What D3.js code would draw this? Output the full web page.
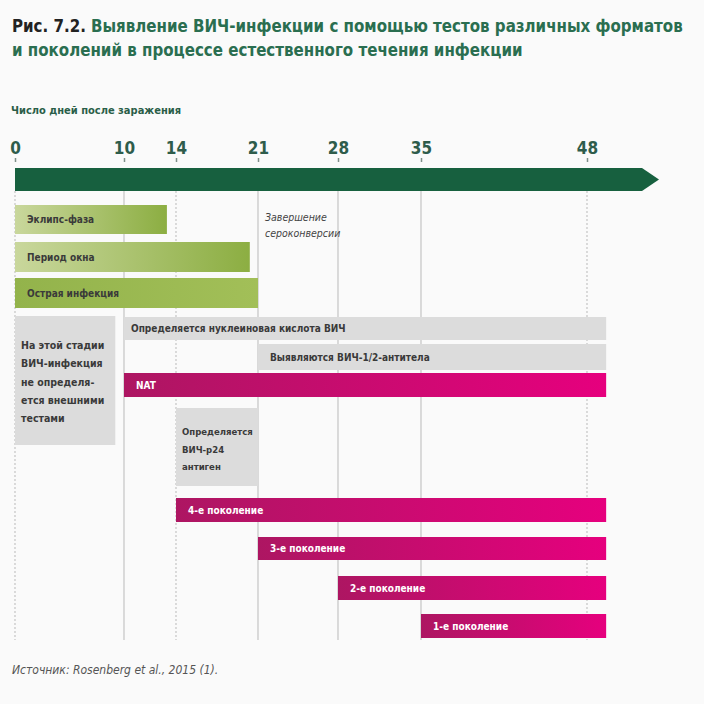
<!DOCTYPE html>
<html lang="ru">
<head>
  <meta charset="UTF-8">
  <title>Рис. 7.2</title>
  <script src="https://d3js.org/d3.v7.min.js"></script>
  <style>
    html, body { margin: 0; padding: 0; background: #fafafa; }
    svg { display: block; font-family: "Liberation Sans Narrow", "DejaVu Sans Condensed", "Arial Narrow", sans-serif; }
  </style>
</head>
<body>

  <script>
    ((window, document) => {
      "use strict";

      /**
       * -----------------------------------------------------------------------
       *  Data
       * -----------------------------------------------------------------------
       */
      const TITLE_PREFIX = "Рис. 7.2.";
      const TITLE_LINES = [
        "Выявление ВИЧ-инфекции с помощью тестов различных форматов",
        "и поколений в процессе естественного течения инфекции",
      ];
      const AXIS_LABEL = "Число дней после заражения";
      const SOURCE = "Источник: Rosenberg et al., 2015 (1).";

      const TICK_DAYS = [0, 10, 14, 21, 28, 35, 48];

      // one entry per bar / box, top to bottom
      const BAR_LABELS = [
        ["Эклипс-фаза"],
        ["Период окна"],
        ["Острая инфекция"],
        ["На этой стадии", "ВИЧ-инфекция", "не определя-", "ется внешними", "тестами"],
        ["Определяется нуклеиновая кислота ВИЧ"],
        ["Выявляются ВИЧ-1/2-антитела"],
        ["NAT"],
        ["Определяется", "ВИЧ-p24", "антиген"],
        ["4-е поколение"],
        ["3-е поколение"],
        ["2-е поколение"],
        ["1-е поколение"],
      ];
      const BAR_START = [0, 0, 0, 0, 10, 21, 10, 14, 14, 21, 28, 35];
      const BAR_END = [13.3, 20.3, 21, 9.2, 49.5, 49.5, 49.5, 21, 49.5, 49.5, 49.5, 49.5];
      const BAR_KIND = ["phase", "phase", "phase", "box", "state", "state",
                        "test", "box", "test", "test", "test", "test"];

      const NOTE_DAY = 21;
      const NOTE_LINES = ["Завершение", "сероконверсии"];


      /**
       * -----------------------------------------------------------------------
       *  Layout
       * -----------------------------------------------------------------------
       */
      const WIDTH = 704;
      const HEIGHT = 704;
      const GREEN = "#17603f";
      const TITLE_GREEN = "#2a6e50";
      const TICK_COLOR = "#2e5c4b";
      const TEXT_DARK = "#3a3a3a";

      // the schematic time axis is not strictly proportional
      let x = d3.scaleLinear()
          .domain(TICK_DAYS)
          .range([15, 124, 176, 258, 338, 421, 587]);

      // top and bottom of each row, in the same order as BAR_LABELS
      let rowTop = d3.scaleOrdinal()
          .domain(d3.range(BAR_LABELS.length))
          .range([205, 242, 278, 316, 317, 344, 373, 408, 498, 537, 576, 614]);
      let rowBottom = d3.scaleOrdinal()
          .domain(d3.range(BAR_LABELS.length))
          .range([234, 272, 308, 445, 340, 370, 397, 486, 522, 560, 600, 638]);

      const ARROW_TOP = 168;
      const ARROW_BOTTOM = 191;
      const GRID_BOTTOM = 640;


      /**
       * -----------------------------------------------------------------------
       *  Render
       * -----------------------------------------------------------------------
       */
      let svg = d3.select("body").append("svg")
          .attr("width", WIDTH)
          .attr("height", HEIGHT);

      let defs = svg.append("defs");
      addGradient("grad-phase", "#c9d79c", "#8cae42");
      addGradient("grad-acute", "#93b34b", "#a2bf58");
      addGradient("grad-test", "#ad1662", "#e6007e");

      // title: shrink the font until the first line fits its width
      let title = svg.append("g").attr("font-weight", "bold");
      let prefix = title.append("text")
          .attr("x", 12)
          .attr("y", 32)
          .attr("fill", "#222")
          .text(TITLE_PREFIX);
      let rest = title.append("text")
          .attr("y", 32)
          .attr("fill", TITLE_GREEN)
          .text(TITLE_LINES[0]);
      let line2 = title.append("text")
          .attr("x", 12)
          .attr("y", 56)
          .attr("fill", TITLE_GREEN)
          .text(TITLE_LINES[1]);

      let size = 21;
      for (; size > 10; size -= 0.25) {
        title.attr("font-size", size);
        let w = prefix.node().getComputedTextLength() + size * 0.3 +
                rest.node().getComputedTextLength();
        if (w <= 676) { break; }
      }
      rest.attr("x", 12 + prefix.node().getComputedTextLength() + size * 0.3);

      svg.append("text")
          .attr("x", 11)
          .attr("y", 114)
          .attr("font-size", 11)
          .attr("font-weight", "bold")
          .attr("fill", "#2a5e48")
          .text(AXIS_LABEL);

      // vertical guides
      svg.append("g")
          .selectAll("line")
          .data(TICK_DAYS)
          .join("line")
          .attr("x1", d => x(d))
          .attr("x2", d => x(d))
          .attr("y1", ARROW_BOTTOM)
          .attr("y2", GRID_BOTTOM)
          .attr("stroke", "#b9b9b9")
          .attr("stroke-width", 1)
          .attr("stroke-dasharray", d => [0, 14, 48].includes(d) ? "2,2" : null);

      // time arrow with ticks
      let x0 = x(0);
      let x1 = x.range()[x.range().length - 1] + 55;
      let mid = (ARROW_TOP + ARROW_BOTTOM) / 2;
      svg.append("path")
          .attr("d", `M${x0},${ARROW_TOP}H${x1}L${x1 + 17},${mid}L${x1},${ARROW_BOTTOM}H${x0}Z`)
          .attr("fill", GREEN);

      let axis = d3.axisTop(x)
          .tickValues(TICK_DAYS)
          .tickFormat(d3.format("d"))
          .tickSize(4)
          .tickPadding(4);
      let axisG = svg.append("g")
          .attr("transform", `translate(0, ${ARROW_TOP - 6})`)
          .call(axis);
      axisG.select(".domain").remove();
      axisG.selectAll(".tick line")
          .attr("stroke", "#7f8f88")
          .attr("stroke-width", 1.5);
      axisG.selectAll(".tick text")
          .attr("fill", TICK_COLOR)
          .attr("font-size", 17)
          .attr("font-weight", "bold")
          .attr("font-family", "\"Liberation Sans Narrow\", \"DejaVu Sans Condensed\", sans-serif");

      // bars and boxes
      let rows = BAR_LABELS.map((lines, i) => ({
        i, lines, start: BAR_START[i], end: BAR_END[i], kind: BAR_KIND[i],
      }));

      let fillFor = d => {
        if ("phase" === d.kind) { return d.i === 2 ? "url(#grad-acute)" : "url(#grad-phase)"; }
        if ("test" === d.kind) { return "url(#grad-test)"; }
        return "#dcdcdc";
      };

      let bars = svg.append("g")
          .selectAll("g")
          .data(rows)
          .join("g");

      bars.append("rect")
          .attr("x", d => x(d.start))
          .attr("y", d => rowTop(d.i))
          .attr("width", d => x(d.end) - x(d.start))
          .attr("height", d => rowBottom(d.i) - rowTop(d.i))
          .attr("fill", fillFor);

      // single line labels
      bars.filter(d => d.lines.length === 1)
          .append("text")
          .attr("x", d => x(d.start) + (d.i === 4 ? 7 : 12))
          .attr("y", d => (rowTop(d.i) + rowBottom(d.i)) / 2 + 3.5)
          .attr("font-size", 10)
          .attr("font-weight", "bold")
          .attr("fill", d => "test" === d.kind ? "#fff" : TEXT_DARK)
          .text(d => d.lines[0]);

      // multi line labels in the grey boxes
      bars.filter(d => d.lines.length > 1)
          .append("text")
          .attr("font-size", d => d.i === 3 ? 10.5 : 9.5)
          .attr("font-weight", "bold")
          .attr("fill", TEXT_DARK)
          .selectAll("tspan")
          .data(d => d.lines.map((t, k) => ({ t, k, d })))
          .join("tspan")
          .attr("x", o => x(o.d.start) + 6)
          .attr("y", o => rowTop(o.d.i) + (o.d.i === 3 ? 33 + o.k * 18.3 : 27 + o.k * 17.5))
          .text(o => o.t);

      // seroconversion note
      svg.append("text")
          .attr("font-size", 10.5)
          .attr("font-style", "italic")
          .attr("fill", "#444")
          .selectAll("tspan")
          .data(NOTE_LINES)
          .join("tspan")
          .attr("x", x(NOTE_DAY) + 7)
          .attr("y", (d, k) => 221 + k * 16)
          .text(d => d);

      // source
      svg.append("text")
          .attr("x", 12)
          .attr("y", 674)
          .attr("font-size", 12)
          .attr("font-style", "italic")
          .attr("fill", "#555")
          .text(SOURCE);


      /**
       * -----------------------------------------------------------------------
       *  Function
       * -----------------------------------------------------------------------
       */
      function addGradient (id, from, to) {
        let g = defs.append("linearGradient")
            .attr("id", id)
            .attr("x1", "0%").attr("x2", "100%")
            .attr("y1", "0%").attr("y2", "0%");
        g.append("stop").attr("offset", "0%").attr("stop-color", from);
        g.append("stop").attr("offset", "100%").attr("stop-color", to);
      }

    })(window, document);
  </script>

</body>
</html>
